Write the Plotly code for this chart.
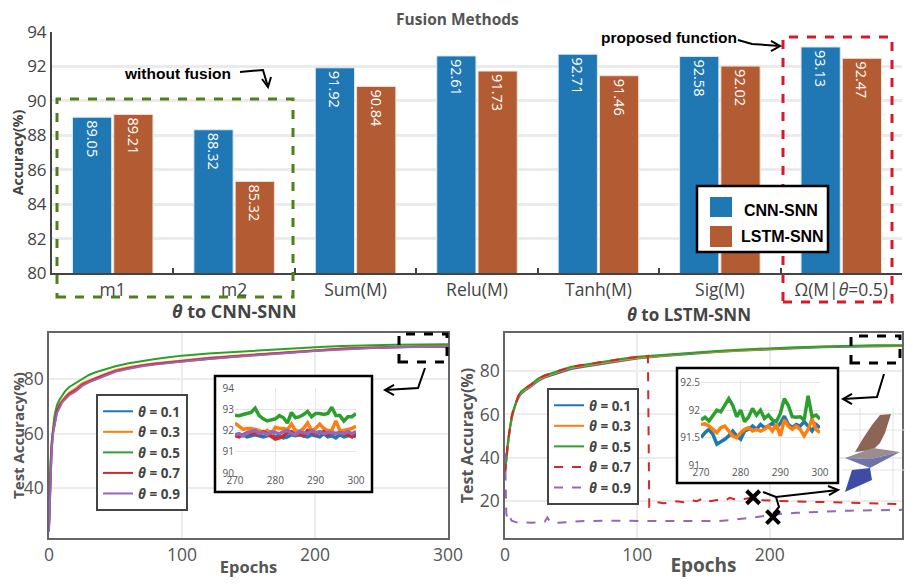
import plotly.graph_objects as go

# the page body adds an 8px margin, so the figure is drawn 8px in from the window corner
OFF = 8
W, H = 913 - 2 * OFF, 586 - 2 * OFF

def px(x):
    return (x - OFF) / W

def py(y):
    return 1 - (y - OFF) / H

# ---------------- data ----------------
methods = ["m1", "m2", "Sum(M)", "Relu(M)", "Tanh(M)", "Sig(M)", "Ω(M|<i>θ</i>=0.5)"]
cnn_snn = [89.05, 88.32, 91.92, 92.61, 92.71, 92.58, 93.13]
lstm_snn = [89.21, 85.32, 90.84, 91.73, 91.46, 92.02, 92.47]

theta_names = ["<b><i>θ</i> = 0.1</b>", "<b><i>θ</i> = 0.3</b>", "<b><i>θ</i> = 0.5</b>",
               "<b><i>θ</i> = 0.7</b>", "<b><i>θ</i> = 0.9</b>"]
colors = ["#1f77b4", "#ff7f0e", "#2ca02c", "#d62728", "#9467bd"]

epochs = [0, 1, 2, 3, 4, 5, 6, 8, 10, 12, 15, 20, 25, 30, 35, 40, 50, 60, 70, 80, 90, 100,
          120, 140, 160, 180, 200, 220, 240, 260, 280, 300]

# CNN-SNN curves
cnn_t01 = [26, 45, 54, 60, 63, 66, 68, 70, 72, 73, 74.5, 76, 78, 79, 80, 81, 83, 84, 85, 85.5, 86, 86.5,
           87.5, 88.3, 89, 89.7, 90.4, 91, 91.4, 91.7, 91.9, 91.8]
cnn_t03 = [26, 47, 55, 61, 64, 67, 69, 71, 72.5, 73.5, 75, 76.5, 78.5, 79.5, 80.5, 81.5, 83.3, 84.3, 85.2, 85.8, 86.3, 86.9,
           87.8, 88.6, 89.3, 90, 90.6, 91.2, 91.6, 91.9, 92.1, 92.1]
cnn_t05 = [26, 48, 57, 63, 66, 68.5, 70.5, 72.5, 74, 75.5, 77, 78.5, 80.3, 81.5, 82.5, 83.3, 84.7, 85.8, 86.7, 87.4, 88, 88.6,
           89.4, 90, 90.6, 91.2, 91.7, 92.1, 92.4, 92.6, 92.7, 92.8]
cnn_t07 = [26, 46, 56, 61, 64, 66.5, 68.5, 70.5, 72, 73, 74.5, 76, 78, 79.2, 80.2, 81.2, 83, 84.1, 85, 85.6, 86.1, 86.7,
           87.6, 88.4, 89.1, 89.8, 90.5, 91.1, 91.5, 91.8, 91.9, 91.9]
cnn_t09 = [24, 44, 54, 60, 63, 65.5, 67.5, 69.5, 71.5, 72.5, 74, 75.5, 77.5, 78.8, 79.8, 80.8, 82.7, 83.8, 84.7, 85.3, 85.9, 86.4,
           87.4, 88.2, 88.9, 89.6, 90.3, 90.9, 91.3, 91.7, 91.9, 91.9]

# LSTM-SNN curves
lstm_t01 = [33, 39.5, 45.5, 50, 54.5, 58, 60.5, 64.5, 67.5, 69.5, 71, 73, 75.5, 77, 78, 79, 81, 82, 83, 84, 85, 85.8,
            87, 88, 88.8, 89.5, 90.1, 90.6, 91, 91.3, 91.5, 91.6]
lstm_t03 = [33, 40, 46, 50.5, 55, 58.5, 61, 65, 68, 70, 71.5, 73.5, 76, 77.5, 78.5, 79.5, 81.5, 82.5, 83.5, 84.5, 85.3, 86.1,
            87.3, 88.2, 89, 89.7, 90.3, 90.8, 91.2, 91.5, 91.7, 91.7]
lstm_t05 = [33, 40.5, 46.5, 51, 55.5, 59, 61.5, 65.5, 68.5, 70.5, 72, 74, 76.5, 78, 79, 80, 82, 83, 84, 85, 85.8, 86.6,
            87.6, 88.5, 89.3, 90, 90.6, 91, 91.4, 91.7, 91.9, 91.9]
lstm_t07_epochs = [0, 1, 2, 3, 4, 5, 6, 8, 10, 12, 15, 20, 25, 30, 35, 40, 50, 60, 70, 80, 90, 100,
                   105, 108, 109, 112, 115, 120, 125, 130, 135, 140, 145, 150, 155, 160, 165, 170, 175, 180,
                   185, 190, 200, 220, 240, 260, 280, 300]
lstm_t07 = [33, 40.5, 46.5, 50.5, 55.5, 59, 61.5, 65.5, 68.5, 70.5, 72, 74, 76.5, 78, 79, 80, 82, 83, 84, 85, 85.8, 86.5,
            86.8, 87, 17.5, 18, 19.5, 19, 19.5, 20, 19.5, 20.5, 20, 21.5, 20, 20.5, 20, 21.5, 20.5, 21,
            21.5, 20.5, 20.2, 19.8, 19.6, 19.2, 18.9, 18.6]
lstm_t09_epochs = [0, 1, 2, 3, 5, 8, 10, 15, 20, 25, 30, 32, 34, 36, 40, 50, 60, 80, 100, 120, 140, 160,
                   170, 180, 190, 200, 210, 220, 240, 260, 280, 300]
lstm_t09 = [42, 14, 12, 13.5, 11, 10.5, 10, 10.2, 10, 10.3, 10.5, 12.5, 10.5, 10.5, 10, 10.5, 10.8, 11, 10.8, 10.8, 10.8, 10.8,
            11.2, 12, 12.8, 13.5, 14.2, 14.6, 15.2, 15.6, 15.8, 16.0]

# zoomed insets (epochs 270..300)
zoom_epochs = list(range(270, 301))
zc_t01 = [91.8, 91.75, 91.8, 91.7, 91.75, 91.8, 91.75, 91.7, 91.75, 91.8, 91.7, 91.75, 91.65, 91.7, 91.8, 91.75,
          91.8, 91.75, 91.7, 91.8, 91.75, 91.7, 91.85, 91.7, 91.75, 91.65, 91.8, 91.7, 91.75, 91.8, 91.7]
zc_t03 = [92.35, 92.2, 92.05, 92.1, 92.1, 92.05, 92.0, 91.9, 92.0, 91.8, 92.15, 92.1, 92.1, 92.05, 92.3, 92.0,
          91.95, 92.1, 92.35, 92.0, 92.1, 92.3, 92.1, 92.0, 92.0, 92.45, 92.0, 92.0, 92.05, 92.1, 92.2]
zc_t05 = [92.72, 92.7, 92.75, 92.8, 92.85, 93.05, 92.7, 92.55, 92.45, 92.5, 92.55, 92.7, 92.6, 92.35, 92.85, 92.6,
          92.65, 92.75, 92.9, 92.65, 92.8, 92.8, 92.75, 92.8, 93.1, 92.7, 92.7, 92.45, 92.65, 92.65, 92.8]
zc_t07 = [91.75, 91.7, 91.8, 91.9, 91.85, 91.9, 91.8, 91.95, 91.85, 91.7, 91.6, 91.65, 91.75, 91.9, 91.95, 91.8,
          91.85, 91.75, 92.0, 91.9, 91.85, 91.9, 91.95, 91.8, 91.9, 91.85, 91.9, 91.85, 91.8, 91.7, 91.9]
zc_t09 = [91.8, 91.85, 91.75, 91.9, 91.95, 92.0, 91.85, 91.9, 91.8, 91.95, 91.9, 91.85, 91.95, 92.0, 91.85, 91.8,
          91.95, 91.9, 91.85, 92.0, 91.9, 91.95, 91.85, 91.9, 91.9, 91.85, 91.9, 91.85, 91.95, 91.85, 91.95]

zl_t01 = [91.5, 91.59, 91.65, 91.56, 91.38, 91.42, 91.47, 91.53, 91.62, 91.53, 91.47, 91.62, 91.65, 91.71, 91.65, 91.74,
          91.68, 91.71, 91.76, 91.68, 91.76, 91.89, 91.74, 91.68, 91.74, 91.71, 91.79, 91.71, 91.62, 91.74, 91.68]
zl_t03 = [91.74, 91.75, 91.71, 91.65, 91.59, 91.68, 91.71, 91.62, 91.53, 91.5, 91.59, 91.65, 91.68, 91.62, 91.65, 91.62,
          91.65, 91.71, 91.62, 91.74, 91.53, 91.82, 91.71, 91.65, 91.71, 91.65, 91.53, 91.65, 91.84, 91.65, 91.59]
zl_t05 = [91.82, 91.87, 91.8, 91.91, 92.0, 91.97, 92.09, 92.21, 92.09, 91.88, 92.0, 91.79, 91.88, 92.03, 91.91, 92.0,
          91.85, 91.91, 91.82, 91.79, 91.94, 92.21, 92.09, 91.88, 91.87, 91.88, 91.82, 92.26, 91.88, 91.91, 91.84]

# crossed-out points on the LSTM plot
cross_epochs = [187.5, 202.5]
cross_acc = [21.8, 12.6]

TICK = "Open Sans"
fig = go.Figure()

# ---------------- bar chart ----------------
fig.add_trace(go.Bar(x=methods, y=cnn_snn, name="CNN-SNN", marker=dict(color="#1f77b4", line=dict(color="#dfe8f0", width=1)),
                     text=[f"{v:.2f}" for v in cnn_snn], textposition="inside", insidetextanchor="end",
                     textangle=90, textfont=dict(color="white", size=14.5, family=TICK),
                     showlegend=False, xaxis="x", yaxis="y"))
fig.add_trace(go.Bar(x=methods, y=lstm_snn, name="LSTM-SNN", marker=dict(color="#b35b32", line=dict(color="#f0e0d8", width=1)),
                     text=[f"{v:.2f}" for v in lstm_snn], textposition="inside", insidetextanchor="end",
                     textangle=90, textfont=dict(color="white", size=14.5, family=TICK),
                     showlegend=False, xaxis="x", yaxis="y"))

# ---------------- CNN-SNN curves ----------------
for name, c, ys in zip(theta_names, colors, [cnn_t01, cnn_t03, cnn_t05, cnn_t07, cnn_t09]):
    fig.add_trace(go.Scatter(x=epochs, y=ys, mode="lines", name=name, line=dict(color=c, width=2),
                             xaxis="x2", yaxis="y2", legend="legend2"))

# dummy subplot for white inset box
fig.add_trace(go.Scatter(x=[], y=[], xaxis="x3", yaxis="y3", showlegend=False))
for c, ys in zip(colors, [zc_t01, zc_t03, zc_t05, zc_t07, zc_t09]):
    fig.add_trace(go.Scatter(x=zoom_epochs, y=ys, mode="lines", line=dict(color=c, width=3.5),
                             xaxis="x4", yaxis="y4", showlegend=False))

# ---------------- LSTM-SNN curves ----------------
fig.add_trace(go.Scatter(x=epochs, y=lstm_t01, mode="lines", name=theta_names[0], line=dict(color=colors[0], width=2),
                         xaxis="x5", yaxis="y5", legend="legend3"))
fig.add_trace(go.Scatter(x=epochs, y=lstm_t03, mode="lines", name=theta_names[1], line=dict(color=colors[1], width=2),
                         xaxis="x5", yaxis="y5", legend="legend3"))
fig.add_trace(go.Scatter(x=epochs, y=lstm_t05, mode="lines", name=theta_names[2], line=dict(color=colors[2], width=2),
                         xaxis="x5", yaxis="y5", legend="legend3"))
fig.add_trace(go.Scatter(x=lstm_t07_epochs, y=lstm_t07, mode="lines", name=theta_names[3],
                         line=dict(color=colors[3], width=2, dash="dash"), xaxis="x5", yaxis="y5", legend="legend3"))
fig.add_trace(go.Scatter(x=lstm_t09_epochs, y=lstm_t09, mode="lines", name=theta_names[4],
                         line=dict(color=colors[4], width=2, dash="dash"), xaxis="x5", yaxis="y5", legend="legend3"))
fig.add_trace(go.Scatter(x=cross_epochs, y=cross_acc, mode="markers", showlegend=False,
                         marker=dict(symbol="x-thin", size=13, line=dict(color="black", width=4)),
                         xaxis="x5", yaxis="y5"))

fig.add_trace(go.Scatter(x=[], y=[], xaxis="x6", yaxis="y6", showlegend=False))
for c, ys in zip(colors[:3], [zl_t01, zl_t03, zl_t05]):
    fig.add_trace(go.Scatter(x=zoom_epochs, y=ys, mode="lines", line=dict(color=c, width=3.5),
                             xaxis="x7", yaxis="y7", showlegend=False))

# ---------------- axes ----------------
grid = "#ececec"
main_ax = dict(showgrid=True, gridcolor=grid, gridwidth=2, zeroline=False, showline=True, mirror=True,
               linecolor="#666", linewidth=1.5, ticks="", tickfont=dict(family=TICK, size=17.5, color="#555"),
               automargin=False)
inset_ax = dict(showgrid=True, gridcolor="#e6e6e6", gridwidth=1, zeroline=False, showline=False, ticks="",
                tickfont=dict(family=TICK, size=10, color="#555"), automargin=False)
hidden = dict(visible=False, range=[0, 1], automargin=False)

fig.update_layout(
    width=W, height=H, autosize=False,
    margin=dict(l=0, r=0, t=0, b=0),
    paper_bgcolor="white", plot_bgcolor="white",
    bargap=0.32, bargroupgap=0.05,
    xaxis=dict(domain=[px(52), px(902)], anchor="y", showgrid=False, showline=True, linecolor="#444", linewidth=2,
               tickson="boundaries", ticks="inside", ticklen=5, tickcolor="#444", tickwidth=1.5,
               tickfont=dict(family=TICK, size=17.5, color="#444"), automargin=False),
    yaxis=dict(domain=[py(273), py(32)], anchor="x", range=[80, 94], dtick=2, showgrid=True, gridcolor="#ebebeb",
               gridwidth=3, zeroline=False, showline=True, linecolor="#444", linewidth=2, ticks="",
               tickfont=dict(family=TICK, size=17, color="#444"), automargin=False,
               title=dict(text="<b>Accuracy(%)</b>", font=dict(family=TICK, size=14, color="#444"), standoff=1)),
    xaxis2=dict(main_ax, domain=[px(49), px(448)], anchor="y2", range=[0, 300], dtick=100,
                title=dict(text="<b>Epochs</b>", font=dict(family=TICK, size=16.5, color="#555"), standoff=1)),
    yaxis2=dict(main_ax, domain=[py(538), py(333)], anchor="x2", range=[21.7, 96.9], dtick=20,
                title=dict(text="<b>Test Accuracy(%)</b>", font=dict(family=TICK, size=15, color="#555"), standoff=2)),
    xaxis3=dict(hidden, domain=[px(215), px(372)], anchor="y3"),
    yaxis3=dict(hidden, domain=[py(492), py(376)], anchor="x3"),
    xaxis4=dict(inset_ax, domain=[px(235), px(356)], anchor="y4", range=[270, 300], tickvals=[270, 280, 290, 300]),
    yaxis4=dict(inset_ax, domain=[py(473), py(388)], anchor="x4", range=[90, 94], dtick=1),
    xaxis5=dict(main_ax, domain=[px(505), px(902)], anchor="y5", range=[0, 300], dtick=100,
                title=dict(text="<b>Epochs</b>", font=dict(family=TICK, size=19, color="#555"), standoff=0)),
    yaxis5=dict(main_ax, domain=[py(538), py(333)], anchor="x5", range=[3, 97.6], dtick=20,
                title=dict(text="<b>Test Accuracy(%)</b>", font=dict(family=TICK, size=16, color="#555"), standoff=2)),
    xaxis6=dict(hidden, domain=[px(677), px(838)], anchor="y6"),
    yaxis6=dict(hidden, domain=[py(483), py(368)], anchor="x6"),
    xaxis7=dict(inset_ax, domain=[px(701), px(820)], anchor="y7", range=[270, 300], tickvals=[270, 280, 290, 300]),
    yaxis7=dict(inset_ax, domain=[py(465), py(380)], anchor="x7", range=[91, 92.55],
                tickvals=[91, 91.5, 92, 92.5], ticktext=["91", "91.5", "92", "92.5"]),
    legend2=dict(x=px(96), y=py(394), xanchor="left", yanchor="top", bgcolor="white", bordercolor="#444",
                 borderwidth=2, font=dict(family=TICK, size=13.5, color="#444"), tracegroupgap=0),
    legend3=dict(x=px(547), y=py(388), xanchor="left", yanchor="top", bgcolor="white", bordercolor="#444",
                 borderwidth=2, font=dict(family=TICK, size=13.5, color="#444"), tracegroupgap=0),
)

# ---------------- decorations ----------------
def path(pts, close=False):
    s = "M " + " L ".join(f"{px(x):.5f},{py(y):.5f}" for x, y in pts)
    return s + (" Z" if close else "")

shapes = []

def rect(x0, y0, x1, y1, color, width, dash="solid", fill="rgba(0,0,0,0)", layer="above"):
    shapes.append(dict(type="rect", xref="paper", yref="paper", x0=px(x0), x1=px(x1), y0=py(y1), y1=py(y0),
                       line=dict(color=color, width=width, dash=dash), fillcolor=fill, layer=layer))

def line(pts, color="black", width=2):
    shapes.append(dict(type="path", xref="paper", yref="paper", path=path(pts),
                       line=dict(color=color, width=width)))

def poly(pts, color):
    shapes.append(dict(type="path", xref="paper", yref="paper", path=path(pts, True),
                       fillcolor=color, line=dict(width=0), layer="above"))

# inset pink backgrounds
for ax in ["4", "7"]:
    shapes.append(dict(type="rect", xref=f"x{ax} domain", yref=f"y{ax} domain", x0=0, x1=1, y0=0, y1=1,
                       fillcolor="#fcf7fa", line=dict(width=0), layer="below"))

# dashed group boxes
rect(57, 99, 293, 297, "#4f8018", 3, "dash")
rect(783, 37, 892, 302, "#d9182b", 3, "dash")
# bar legend
rect(697, 186, 828, 252, "black", 2.5, fill="white")
rect(710, 197, 732, 217, "#1f77b4", 0, fill="#1f77b4")
rect(710, 226, 732, 247, "#b35b32", 0, fill="#b35b32")
# inset boxes
rect(215, 376, 372, 492, "black", 2.5)
rect(677, 368, 838, 483, "black", 2.5)
# zoom boxes
rect(399, 334, 447, 362, "black", 3, "dash")
rect(851, 336, 900, 363, "black", 3, "dash")

# arrows
line([(240, 72), (263, 70), (268, 87)])
line([(262, 79), (268, 87), (271, 77)])
line([(738, 40), (752, 44), (780, 46)])
line([(771, 41), (780, 46), (771, 51)])
line([(425, 368), (418, 388), (385, 390)])
line([(394, 385), (385, 390), (394, 395)])
line([(884, 374), (877, 397), (843, 399)])
line([(852, 394), (843, 399), (852, 404)])
line([(763, 492), (776, 497), (838, 490)])
line([(828, 486), (838, 490), (829, 495)])
line([(776, 497), (779, 507), (773, 514)])

# small 3D surface sketch
for gx in [860, 893]:
    line([(gx, 408), (gx, 496)], color="#e3e3e3", width=1)
for gy in [430, 470]:
    line([(842, gy), (905, gy)], color="#e3e3e3", width=1)
poly([(880, 415), (891, 414), (885, 433), (880, 443), (873, 450), (855, 452), (862, 440), (872, 425)], "#8d6556")
poly([(845, 458), (873, 448), (900, 452), (871, 459)], "#9a8c90")
poly([(845, 458), (871, 459), (900, 452), (870, 468)], "#6e73a8")
poly([(845, 492), (852, 470), (870, 468), (872, 480)], "#3f4ca6")

fig.update_layout(shapes=shapes)

annotations = [
    dict(text="<b>Fusion Methods</b>", x=px(457), y=py(19), font=dict(family=TICK, size=15.5, color="#555")),
    dict(text="<b><i>θ</i> to CNN-SNN</b>", x=px(234), y=py(311), font=dict(family=TICK, size=18, color="#444")),
    dict(text="<b><i>θ</i> to LSTM-SNN</b>", x=px(689), y=py(314), font=dict(family=TICK, size=17, color="#444")),
    dict(text="<b>without fusion</b>", x=px(177), y=py(73), font=dict(family="Liberation Sans", size=15.5, color="black")),
    dict(text="<b>proposed function</b>", x=px(669), y=py(37), font=dict(family="Liberation Sans", size=15.5, color="black")),
    dict(text="<b>CNN-SNN</b>", x=px(781), y=py(210), font=dict(family="Liberation Sans", size=16, color="black")),
    dict(text="<b>LSTM-SNN</b>", x=px(782), y=py(236), font=dict(family="Liberation Sans", size=16, color="black")),
]
for a in annotations:
    a.update(xref="paper", yref="paper", showarrow=False, xanchor="center", yanchor="middle")
fig.update_layout(annotations=annotations)

fig.write_html("out.html")
